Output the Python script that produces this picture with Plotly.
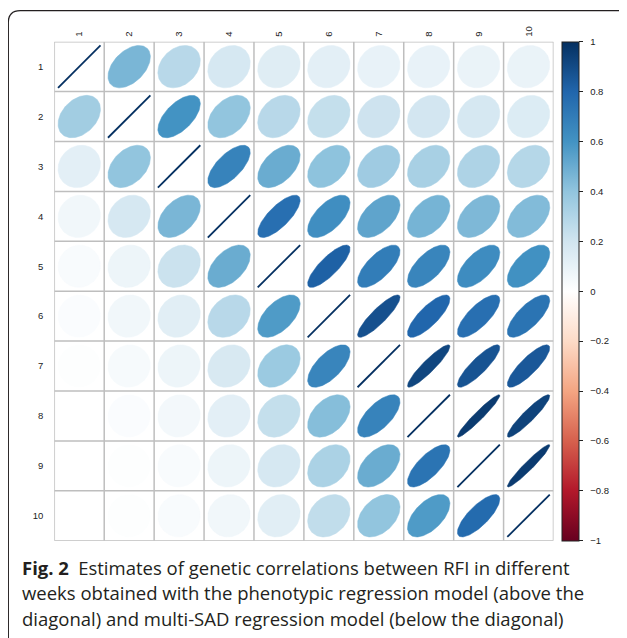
import numpy as np
import plotly.graph_objects as go
from plotly.colors import sample_colorscale

weeks = ["1", "2", "3", "4", "5", "6", "7", "8", "9", "10"]

# Correlation matrix rows: above diagonal = phenotypic regression model,
# below diagonal = multi-SAD regression model
week1 = [1.00, 0.46, 0.28, 0.18, 0.14, 0.12, 0.10, 0.10, 0.09, 0.09]
week2 = [0.35, 1.00, 0.60, 0.40, 0.28, 0.24, 0.21, 0.19, 0.18, 0.15]
week3 = [0.12, 0.40, 1.00, 0.67, 0.50, 0.41, 0.36, 0.33, 0.31, 0.29]
week4 = [0.06, 0.18, 0.46, 1.00, 0.76, 0.62, 0.53, 0.47, 0.45, 0.44]
week5 = [0.03, 0.08, 0.22, 0.50, 1.00, 0.82, 0.70, 0.66, 0.63, 0.61]
week6 = [0.02, 0.06, 0.13, 0.28, 0.57, 1.00, 0.88, 0.80, 0.76, 0.74]
week7 = [0.01, 0.04, 0.08, 0.17, 0.37, 0.66, 1.00, 0.92, 0.87, 0.85]
week8 = [0.00, 0.02, 0.05, 0.12, 0.24, 0.43, 0.67, 1.00, 0.96, 0.93]
week9 = [0.00, 0.01, 0.03, 0.08, 0.18, 0.32, 0.50, 0.74, 1.00, 0.96]
week10 = [0.00, 0.01, 0.03, 0.06, 0.13, 0.25, 0.40, 0.57, 0.78, 1.00]

colorbar_ticks = [1, 0.8, 0.6, 0.4, 0.2, 0, -0.2, -0.4, -0.6, -0.8, -1]

caption_lines = [
    "<b>Fig. 2</b>\u2002Estimates of genetic correlations between RFI in different",
    "weeks obtained with the phenotypic regression model (above the",
    "diagonal) and multi-SAD regression model (below the diagonal)",
]

rows = [week1, week2, week3, week4, week5, week6, week7, week8, week9, week10]
n = len(weeks)

rdbu = ["#67001F", "#B2182B", "#D6604D", "#F4A582", "#FDDBC7", "#FFFFFF",
        "#D1E5F0", "#92C5DE", "#4393C3", "#2166AC", "#053061"]
colorscale = [[k / 10, c] for k, c in enumerate(rdbu)]

# page has an 8px body margin; figure fills the rest of the window
OFF = 8
W, H = 627 - OFF, 638 - OFF
gx0, gx1 = 54.3 - OFF, 553.5 - OFF
gy0, gy1 = 41.7 - OFF, 540.7 - OFF

fig = go.Figure()

t = np.linspace(0, 2 * np.pi, 120)
scale = 0.85
for i in range(n):
    for j in range(n):
        r = rows[i][j]
        cx, cy = j + 1, i + 1
        col = sample_colorscale(colorscale, [(r + 1) / 2])[0]
        if i == j:
            d = np.arccos(min(r, 1.0))
            dx = scale * np.cos(np.array([np.pi, 0]) + d / 2) / 2
            dy = scale * np.cos(np.array([np.pi, 0]) - d / 2) / 2
            fig.add_trace(go.Scatter(x=cx + dx, y=cy - dy, mode="lines",
                                     line=dict(color=col, width=1.8),
                                     hoverinfo="skip", showlegend=False))
        else:
            d = np.arccos(r)
            dx = scale * np.cos(t + d / 2) / 2
            dy = scale * np.cos(t - d / 2) / 2
            fig.add_trace(go.Scatter(x=cx + dx, y=cy - dy, mode="lines",
                                     fill="toself", fillcolor=col,
                                     line=dict(color=col, width=0.5),
                                     hoverinfo="skip", showlegend=False))

# colorbar carrier (point placed outside the visible range)
fig.add_trace(go.Scatter(
    x=[-50], y=[-50], mode="markers", hoverinfo="skip", showlegend=False,
    marker=dict(size=1, color=[0], cmin=-1, cmax=1, colorscale=colorscale,
                showscale=True,
                colorbar=dict(
                    x=(562.3 - OFF) / W, xanchor="left", xpad=0, ypad=0,
                    y=1 - gy0 / H, yanchor="top",
                    len=(gy1 - gy0) / H, lenmode="fraction",
                    thickness=17, thicknessmode="pixels",
                    outlinewidth=1, outlinecolor="#222",
                    ticks="outside", ticklen=4, tickwidth=1, tickcolor="#222",
                    tickvals=colorbar_ticks,
                    ticktext=["\u00a0\u00a0" + (("\u2212" + str(abs(v))) if v < 0 else str(v))
                              for v in colorbar_ticks],
                    tickfont=dict(family="Liberation Sans", size=9.5, color="#222"),
                ))))

shapes = []
grid_col = "#BEBEBE"
for k in range(n + 1):
    p = k + 0.5
    shapes.append(dict(type="line", xref="x", yref="y", x0=p, x1=p, y0=0.5, y1=n + 0.5,
                       line=dict(color=grid_col, width=1.5), layer="below"))
    shapes.append(dict(type="line", xref="x", yref="y", y0=p, y1=p, x0=0.5, x1=n + 0.5,
                       line=dict(color=grid_col, width=1.5), layer="below"))


def px(x, y):
    return f"{(x - OFF) / W:.5f},{1 - (y - OFF) / H:.5f}"


frame = ("M " + px(8.3, 660) + " L " + px(8.3, 22.7) + " Q " + px(8.3, 10.7) + " " + px(20.3, 10.7)
         + " L " + px(620, 10.7) + " Q " + px(632, 10.7) + " " + px(632, 22.7) + " L " + px(632, 660))
shapes.append(dict(type="path", xref="paper", yref="paper", path=frame,
                   line=dict(color="#231F20", width=1.3)))

annotations = []
for k, line in enumerate(caption_lines):
    annotations.append(dict(
        xref="paper", yref="paper", x=(20 - OFF) / W, y=1 - (567 + 25.5 * k - OFF) / H,
        xanchor="left", yanchor="middle", showarrow=False, text=line,
        font=dict(family="Open Sans", size=18.5, color="#231F20")))

fig.update_layout(
    width=W, height=H, margin=dict(l=0, r=0, t=0, b=0),
    paper_bgcolor="white", plot_bgcolor="white",
    shapes=shapes, annotations=annotations,
    xaxis=dict(domain=[gx0 / W, gx1 / W], range=[0.5, n + 0.5], side="top",
               tickvals=list(range(1, n + 1)), ticktext=weeks, tickangle=-90,
               showgrid=False, zeroline=False, showline=False, ticks="",
               ticklabelstandoff=4,
               tickfont=dict(family="Liberation Sans", size=9.5, color="#222"),
               fixedrange=True),
    yaxis=dict(domain=[1 - gy1 / H, 1 - gy0 / H], range=[n + 0.5, 0.5],
               tickvals=list(range(1, n + 1)), ticktext=weeks,
               showgrid=False, zeroline=False, showline=False, ticks="",
               ticklabelstandoff=10,
               tickfont=dict(family="Liberation Sans", size=9.5, color="#222"),
               fixedrange=True),
)

fig.write_html("out.html")
